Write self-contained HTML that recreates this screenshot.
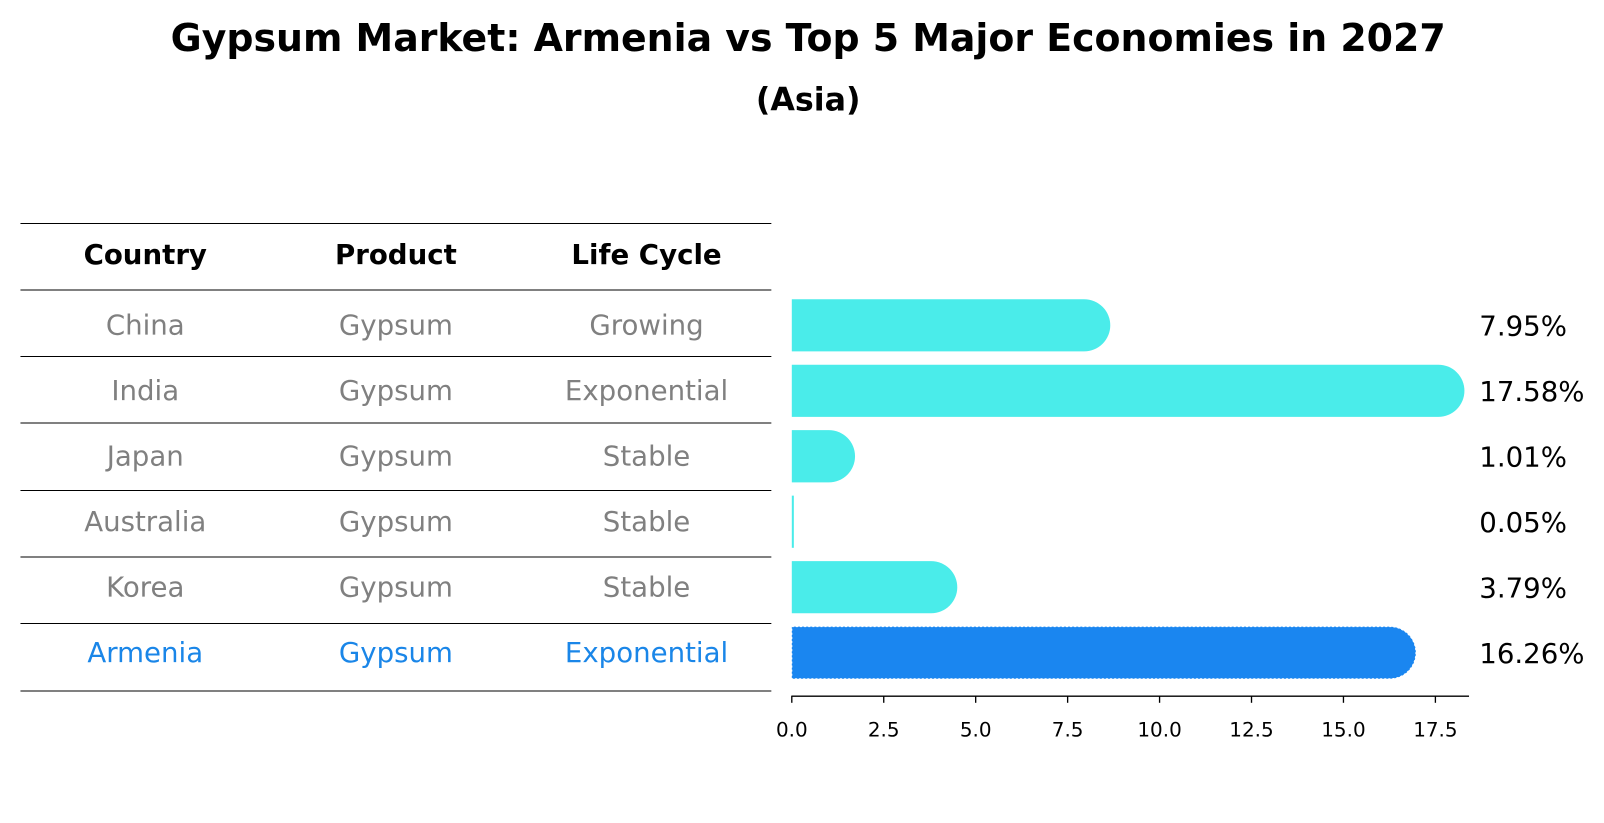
<!DOCTYPE html>
<html><head><meta charset="utf-8"><style>
body{margin:0;background:#fff;font-family:"DejaVu Sans",sans-serif;}
#wrap{position:relative;width:1604px;height:823px;overflow:hidden}
#inner{position:absolute;left:0;top:0;width:1568px;height:805px;transform:scale(1.023);transform-origin:0 0}
</style></head><body>
<div id="wrap">
<div id="inner">
<svg id="svg" width="1568" height="805" style="position:absolute;left:0;top:0">
<text x="790" y="50" text-anchor="middle" font-size="37" font-weight="bold" font-family="'DejaVu Sans',sans-serif">Gypsum Market: Armenia vs Top 5 Major Economies in 2027</text>
<text x="790" y="108" text-anchor="middle" font-size="31" font-weight="bold" font-family="'DejaVu Sans',sans-serif">(Asia)</text>
</svg>
</div>
</div>
<script>
const countries=["China","India","Japan","Australia","Korea","Armenia"];
const products=["Gypsum","Gypsum","Gypsum","Gypsum","Gypsum","Gypsum"];
const lifeCycles=["Growing","Exponential","Stable","Stable","Stable","Exponential"];
const values=[7.95,17.58,1.01,0.05,3.79,16.26];
const ticks=[0,2.5,5,7.5,10,12.5,15,17.5];
const NS="http://www.w3.org/2000/svg";
const svg=document.getElementById('svg');
const X0=774,PX=35.95;
const xs=v=>X0+v*PX;
const rowY=i=>318+i*64;
function mk(tag,attrs,txt){const e=document.createElementNS(NS,tag);for(const k in attrs)e.setAttribute(k,attrs[k]);if(txt!==undefined)e.textContent=txt;svg.appendChild(e);return e;}
const FONT="'DejaVu Sans',sans-serif";
const lineYs=[218,283,348,413,479,544,609,675];
lineYs.forEach(y=>{const l=mk('line',{x1:20,x2:754,y1:y+0.5,y2:y+0.5,stroke:'#000','stroke-width':1});

});
const colX=[142,387,632];
["Country","Product","Life Cycle"].forEach((h,j)=>{const t=mk('text',{x:colX[j],y:258,'text-anchor':'middle','font-size':27,'font-weight':'bold','font-family':FONT},h);

});
countries.forEach((c,i)=>{
 const col=i===countries.length-1?'#1a86e8':'#808080';
 const y=rowY(i)+9;
 [c,products[i],lifeCycles[i]].forEach((s,j)=>{const t=mk('text',{x:colX[j],y:y,'text-anchor':'middle','font-size':27,fill:col,'font-family':FONT},s);
 
 });
 const h=51,r=25.5,yt=rowY(i)-h/2,x1=xs(values[i]);
 const w=Math.max(x1-X0,0);
 let d;
 if(w<3){d=`M${X0},${yt}h2v${h}h-2z`;}
 else d=`M${X0},${yt}H${x1}A${r},${r} 0 0 1 ${x1},${yt+h}H${X0}Z`;
 const fill=i===countries.length-1?'#1a86f0':'#4aecea';
 const b=mk('path',{d:d,fill:fill});
 if(i===countries.length-1){b.setAttribute('stroke','#fff');b.setAttribute('stroke-width','1');b.setAttribute('stroke-dasharray','2,2');}
 
 
 const lt=mk('text',{x:1446,y:rowY(i)+10,'font-size':27,'font-family':FONT},values[i].toFixed(2)+'%');
 
 
});
const ax=mk('line',{x1:X0,x2:1436,y1:680.5,y2:680.5,stroke:'#000','stroke-width':1.3});


ticks.forEach(v=>{const tk=mk('line',{x1:xs(v),x2:xs(v),y1:680,y2:687,stroke:'#000','stroke-width':1.3});


const tl=mk('text',{x:xs(v),y:720,'text-anchor':'middle','font-size':19.5,'font-family':FONT},v.toFixed(1));

});
</script>
</body></html>
